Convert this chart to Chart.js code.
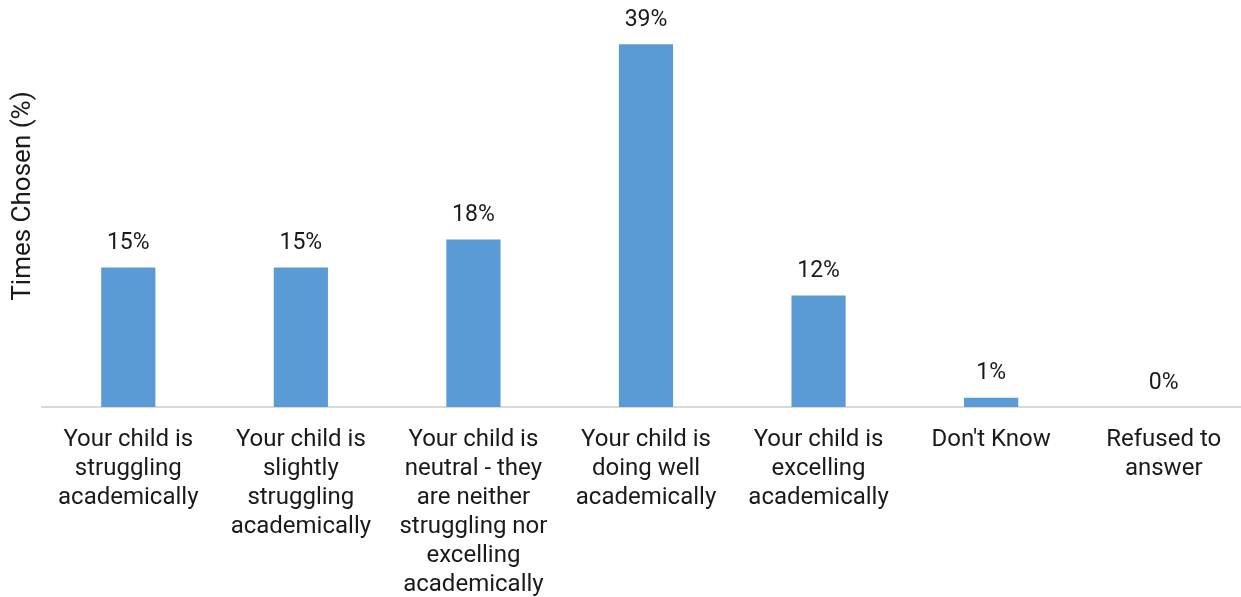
<!DOCTYPE html>
<html>
<head>
<meta charset="utf-8">
<script src="https://cdn.jsdelivr.net/npm/chart.js@4/dist/chart.umd.min.js"></script>
<style>
html,body{margin:0;padding:0;background:#fff;overflow:hidden;}
#wrap{width:1250px;height:597px;}
</style>
</head>
<body>
<div id="wrap"><canvas id="c" width="1250" height="597"></canvas></div>
<script>
const categories = [
  ["Your child is","struggling","academically"],
  ["Your child is","slightly","struggling","academically"],
  ["Your child is","neutral - they","are neither","struggling nor","excelling","academically"],
  ["Your child is","doing well","academically"],
  ["Your child is","excelling","academically"],
  ["Don't Know"],
  ["Refused to","answer"]
];
const values = [15, 15, 18, 39, 12, 1, 0];
const yTitle = "Times Chosen (%)";

const FONT = "Roboto, 'Liberation Sans', sans-serif";
const TEXT = "#1a1a1a";

const labelPlugin = {
  id: 'valueLabels',
  afterDatasetsDraw(chart) {
    const ctx = chart.ctx;
    const meta = chart.getDatasetMeta(0);
    ctx.save();
    ctx.font = "23px " + FONT;
    ctx.fillStyle = TEXT;
    ctx.textAlign = "center";
    ctx.textBaseline = "middle";
    meta.data.forEach((bar, i) => {
      ctx.fillText(values[i] + "%", bar.x, bar.y - 24);
    });
    ctx.restore();
  }
};
const titlePlugin = {
  id: 'yTitle',
  afterDraw(chart) {
    const ctx = chart.ctx;
    ctx.save();
    ctx.font = "26px " + FONT;
    ctx.fillStyle = TEXT;
    ctx.textAlign = "center";
    ctx.textBaseline = "middle";
    ctx.translate(23, 196);
    ctx.rotate(-Math.PI / 2);
    ctx.fillText(yTitle, 0, 0);
    ctx.restore();
  }
};

new Chart(document.getElementById('c'), {
  type: 'bar',
  data: {
    labels: categories,
    datasets: [{
      data: values,
      backgroundColor: '#5B9BD5',
      borderWidth: 0,
      barPercentage: 0.314,
      categoryPercentage: 1.0
    }]
  },
  options: {
    responsive: false,
    animation: false,
    layout: { padding: { top: 35, left: 42, right: 0, bottom: 0 } },
    plugins: { legend: { display: false }, tooltip: { enabled: false } },
    scales: {
      x: {
        offset: true,
        grid: { display: false, drawTicks: false },
        border: { display: true, color: '#d9d9d9', width: 2 },
        ticks: {
          color: TEXT,
          font: { family: FONT, size: 24, lineHeight: 1.21 },
          padding: 18,
          maxRotation: 0,
          minRotation: 0,
          autoSkip: false
        },
        afterFit(scale) { scale.height = 190; }
      },
      y: {
        display: false,
        min: 0,
        max: 40
      }
    }
  },
  plugins: [labelPlugin, titlePlugin]
});
</script>
</body>
</html>
